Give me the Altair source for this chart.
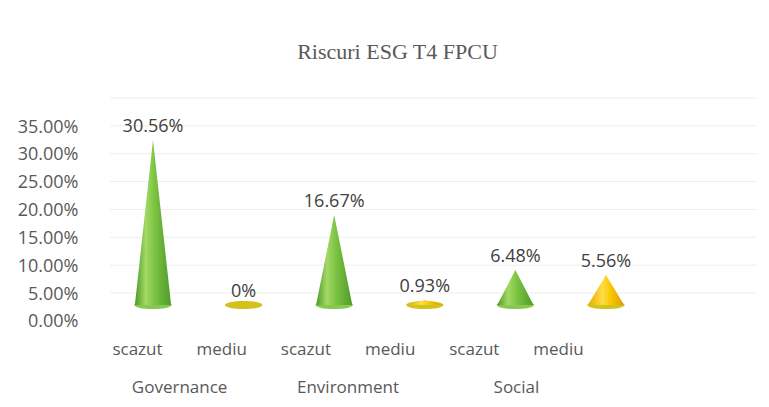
import altair as alt
import pandas as pd

# ---- data ----
groups = ["Governance", "Environment", "Social"]
levels = ["scazut", "mediu"]
values = [30.56, 0.0, 16.67, 0.93, 6.48, 5.56]
value_labels = ["30.56%", "0%", "16.67%", "0.93%", "6.48%", "5.56%"]
y_ticks = [0, 5, 10, 15, 20, 25, 30, 35]

# ---- tables built from the arrays ----
rows = []
for gi, g in enumerate(groups):
    for li, lv in enumerate(levels):
        idx = gi * len(levels) + li
        rows.append(dict(item=idx, group=g, level=lv, pos=idx,
                         value=values[idx], label=value_labels[idx], base=0))
items = pd.DataFrame(rows)

HALF = 0.2  # cone half width, in category units
tri = []
for r in rows:
    for k, (dx, yv) in enumerate([(-HALF, 0.0), (0.0, r["value"]), (HALF, 0.0)]):
        tri.append(dict(item=r["item"], level=r["level"], x=r["pos"] + dx, y=yv, k=k))
tri = pd.DataFrame(tri)

group_pos = pd.DataFrame(dict(group=groups, gpos=[gi * 2 + 0.5 for gi in range(len(groups))]))
ticks_df = pd.DataFrame(dict(t=y_ticks))

FONT = "Open Sans"
GREY = "#595959"

cone_x = alt.Scale(domain=[-0.4746, 6.667], nice=False, zero=False)
cone_y = alt.Scale(domain=[0, 38.33], nice=False, zero=False)
lab_x = alt.Scale(domain=[-0.3207, 7.363], nice=False, zero=False)
axis_y = alt.Scale(domain=[-2.154, 35], nice=False, zero=False)

def grad(stops):
    return alt.LinearGradient(
        gradient="linear", x1=0, x2=1, y1=0, y2=0,
        stops=[alt.GradientStop(color=c, offset=o) for o, c in stops])

green = grad([(0, "#4e9a28"), (0.3, "#a2d965"), (0.55, "#7cc242"), (1, "#4f9a2a")])
yellow = grad([(0, "#e8ac00"), (0.4, "#ffdc48"), (0.65, "#f7c600"), (1, "#dc9c00")])

ellipse = "M -1 0 A 1 0.22 0 1 1 1 0 A 1 0.22 0 1 1 -1 0 Z"

# gridlines + y axis
grid = alt.Chart(ticks_df).mark_rule(color="#ededed", strokeWidth=1).encode(
    y=alt.Y("t:Q", scale=axis_y, axis=alt.Axis(
        values=y_ticks, title=None, grid=False, domain=False, ticks=False,
        labelExpr="format(datum.value/100, '.2%')",
        labelFont=FONT, labelFontSize=18, labelColor=GREY,
        labelPadding=32, labelOffset=29)))

base_pts = alt.Chart(items).mark_point(shape=ellipse, size=1400, filled=True, opacity=1).encode(
    x=alt.X("pos:Q", scale=cone_x, axis=None),
    y=alt.Y("base:Q", scale=cone_y, axis=None),
    color=alt.Color("level:N", scale=alt.Scale(domain=levels, range=["#86c94e", "#d2c21c"]), legend=None))

cone_layers = []
for r in rows:
    sub = tri[tri.item == r["item"]]
    cone_layers.append(
        alt.Chart(sub).mark_area(color=green if r["level"] == "scazut" else yellow, line=False).encode(
            x=alt.X("x:Q", scale=cone_x, axis=None),
            y=alt.Y("y:Q", scale=cone_y, axis=None),
            order="k:Q"))

texts = alt.Chart(items).mark_text(baseline="bottom", dy=-4, font=FONT, fontSize=18,
                                   color="#404040").encode(
    x=alt.X("pos:Q", scale=cone_x, axis=None),
    y=alt.Y("value:Q", scale=cone_y, axis=None),
    text="label:N")

cones = alt.layer(base_pts, *cone_layers, texts)

lvl_expr = "['scazut','mediu'][round(datum.value) % 2]"
lvl_axis = alt.Chart(items).mark_point(opacity=0).encode(
    x=alt.X("pos:Q", scale=lab_x, axis=alt.Axis(
        orient="bottom", values=list(range(len(values))), title=None, grid=False,
        domain=False, ticks=False, labelExpr=lvl_expr,
        labelFont=FONT, labelFontSize=17, labelColor=GREY, labelPadding=36)))

grp_expr = "datum.value < 1.5 ? 'Governance' : (datum.value < 3.5 ? 'Environment' : 'Social')"
grp_axis = alt.Chart(group_pos).mark_point(opacity=0).encode(
    x=alt.X("gpos:Q", scale=lab_x, axis=alt.Axis(
        orient="bottom", values=group_pos.gpos.tolist(), title=None, grid=False,
        domain=False, ticks=False, labelExpr=grp_expr,
        labelFont=FONT, labelFontSize=17, labelColor=GREY, labelPadding=74)))

chart = alt.layer(grid, cones, lvl_axis, grp_axis).resolve_scale(
    x="independent", y="independent").resolve_axis(x="independent", y="independent").properties(
    width=647, height=207,
    padding={"left": 102, "top": 90, "right": 0, "bottom": 100},
    autosize=alt.AutoSizeParams(type="none"),
    title=alt.TitleParams("Riscuri ESG T4 FPCU", font="Liberation Serif", fontSize=22,
                          fontWeight="normal", color=GREY, dx=-36, offset=34),
).configure_view(stroke=None)

chart.save("out.html", embed_options={"renderer": "svg", "actions": False})
